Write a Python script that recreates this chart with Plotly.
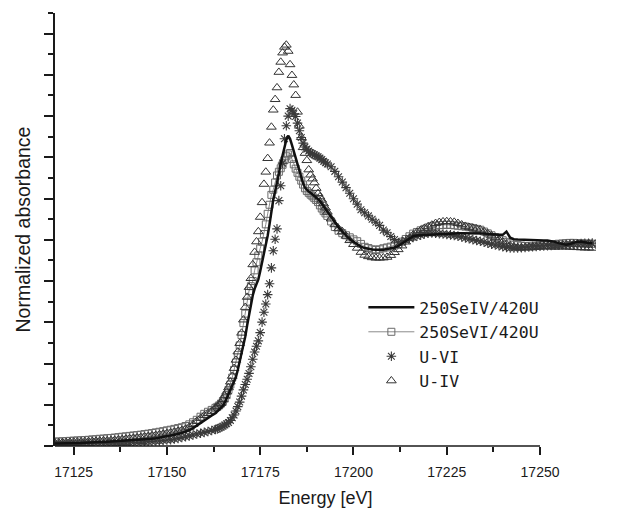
import plotly.graph_objects as go

# Shared energy grid (eV): pre-edge 1 eV, edge region 0.5 eV, post-edge 1 eV
energy = [
    17120, 17121, 17122, 17123, 17124, 17125, 17126, 17127, 17128, 17129,
    17130, 17131, 17132, 17133, 17134, 17135, 17136, 17137, 17138, 17139,
    17140, 17141, 17142, 17143, 17144, 17145, 17146, 17147, 17148, 17149,
    17150, 17151, 17152, 17153, 17154, 17155, 17156, 17157, 17158, 17159,
    17160, 17161, 17162, 17163,
    17163.5, 17164, 17164.5, 17165, 17165.5, 17166, 17166.5, 17167, 17167.5, 17168,
    17168.5, 17169, 17169.5, 17170, 17170.5, 17171, 17171.5, 17172, 17172.5, 17173,
    17173.5, 17174, 17174.5, 17175, 17175.5, 17176, 17176.5, 17177, 17177.5, 17178,
    17178.5, 17179, 17179.5, 17180, 17180.5, 17181, 17181.5, 17182, 17182.5, 17183,
    17183.5, 17184, 17184.5, 17185, 17185.5, 17186, 17186.5, 17187, 17187.5, 17188,
    17188.5, 17189, 17189.5, 17190, 17190.5, 17191, 17191.5, 17192, 17192.5, 17193,
    17194, 17195, 17196, 17197, 17198, 17199, 17200, 17201, 17202, 17203,
    17204, 17205, 17206, 17207, 17208, 17209, 17210, 17211, 17212, 17213,
    17214, 17215, 17216, 17217, 17218, 17219, 17220, 17221, 17222, 17223,
    17224, 17225, 17226, 17227, 17228, 17229, 17230, 17231, 17232, 17233,
    17234, 17235, 17236, 17237, 17238, 17239, 17240, 17241, 17242, 17243,
    17244, 17245, 17246, 17247, 17248, 17249, 17250, 17251, 17252, 17253,
    17254, 17255, 17256, 17257, 17258, 17259, 17260, 17261, 17262, 17263,
    17264,
]

# 250SeIV/420U (solid line)
se_iv = [
    0.012, 0.012, 0.013, 0.013, 0.014, 0.014, 0.015, 0.015, 0.016, 0.016,
    0.017, 0.018, 0.019, 0.020, 0.021, 0.021, 0.022, 0.023, 0.024, 0.025,
    0.026, 0.027, 0.028, 0.030, 0.031, 0.033, 0.035, 0.037, 0.040, 0.043,
    0.046, 0.050, 0.054, 0.058, 0.063, 0.069, 0.077, 0.087, 0.100, 0.113,
    0.125, 0.137, 0.148, 0.159,
    0.168, 0.176, 0.185, 0.195, 0.210, 0.230, 0.250, 0.268, 0.290, 0.313,
    0.336, 0.370, 0.410, 0.447, 0.490, 0.531, 0.585, 0.640, 0.690, 0.730,
    0.762, 0.785, 0.808, 0.848, 0.887, 0.927, 0.967, 1.020, 1.075, 1.140,
    1.195, 1.235, 1.275, 1.320, 1.372, 1.410, 1.450, 1.485, 1.505, 1.490,
    1.460, 1.428, 1.395, 1.370, 1.335, 1.302, 1.274, 1.253, 1.242, 1.234,
    1.228, 1.220, 1.213, 1.207, 1.200, 1.189, 1.176, 1.163, 1.150, 1.136,
    1.111, 1.085, 1.060, 1.040, 1.020, 1.003, 0.990, 0.978, 0.967, 0.960,
    0.956, 0.953, 0.952, 0.951, 0.952, 0.955, 0.958, 0.963, 0.970, 0.982,
    0.996, 1.009, 1.018, 1.021, 1.022, 1.023, 1.024, 1.025, 1.027, 1.029,
    1.031, 1.032, 1.032, 1.032, 1.032, 1.032, 1.032, 1.032, 1.032, 1.032,
    1.031, 1.030, 1.028, 1.026, 1.025, 1.024, 1.024, 1.040, 1.010, 1.003,
    1.001, 1.000, 0.999, 0.999, 0.998, 0.998, 0.997, 0.997, 0.997, 0.995,
    0.990, 0.984, 0.979, 0.976, 0.980, 0.986, 0.991, 0.992, 0.988, 0.985,
    0.984,
]

# 250SeVI/420U (open squares)
se_vi = [
    0.021, 0.022, 0.023, 0.024, 0.025, 0.026, 0.027, 0.028, 0.029, 0.030,
    0.032, 0.033, 0.035, 0.036, 0.038, 0.039, 0.041, 0.043, 0.045, 0.047,
    0.049, 0.051, 0.053, 0.055, 0.058, 0.060, 0.063, 0.066, 0.069, 0.072,
    0.076, 0.079, 0.083, 0.087, 0.091, 0.097, 0.105, 0.115, 0.127, 0.142,
    0.156, 0.166, 0.175, 0.185,
    0.190, 0.197, 0.206, 0.217, 0.230, 0.247, 0.272, 0.298, 0.332, 0.369,
    0.405, 0.442, 0.488, 0.538, 0.596, 0.642, 0.700, 0.752, 0.775, 0.800,
    0.852, 0.891, 0.924, 0.958, 0.991, 1.028, 1.075, 1.126, 1.170, 1.218,
    1.243, 1.278, 1.312, 1.330, 1.347, 1.364, 1.386, 1.405, 1.414, 1.421,
    1.392, 1.366, 1.345, 1.325, 1.306, 1.287, 1.268, 1.250, 1.237, 1.228,
    1.219, 1.211, 1.202, 1.193, 1.183, 1.167, 1.152, 1.139, 1.128, 1.116,
    1.089, 1.062, 1.044, 1.032, 1.022, 1.012, 1.002, 0.993, 0.980, 0.966,
    0.960, 0.954, 0.951, 0.954, 0.959, 0.963, 0.967, 0.972, 0.978, 0.991,
    1.004, 1.017, 1.030, 1.038, 1.046, 1.053, 1.060, 1.066, 1.069, 1.071,
    1.072, 1.073, 1.072, 1.070, 1.068, 1.066, 1.064, 1.061, 1.057, 1.053,
    1.049, 1.040, 1.031, 1.022, 1.013, 1.005, 0.998, 0.990, 0.983, 0.976,
    0.974, 0.972, 0.970, 0.968, 0.968, 0.970, 0.972, 0.974, 0.976, 0.978,
    0.979, 0.981, 0.982, 0.984, 0.985, 0.985, 0.984, 0.983, 0.982, 0.981,
    0.981,
]

# U-VI reference (asterisks)
u_vi = [
    0.008, 0.008, 0.009, 0.009, 0.009, 0.010, 0.010, 0.010, 0.011, 0.011,
    0.011, 0.012, 0.012, 0.012, 0.013, 0.013, 0.013, 0.014, 0.015, 0.015,
    0.016, 0.017, 0.018, 0.019, 0.020, 0.021, 0.022, 0.024, 0.025, 0.027,
    0.029, 0.031, 0.034, 0.037, 0.041, 0.045, 0.049, 0.053, 0.058, 0.062,
    0.066, 0.070, 0.075, 0.080,
    0.083, 0.087, 0.091, 0.096, 0.102, 0.108, 0.114, 0.124, 0.137, 0.150,
    0.170, 0.191, 0.213, 0.242, 0.272, 0.298, 0.324, 0.352, 0.384, 0.421,
    0.456, 0.484, 0.510, 0.550, 0.601, 0.649, 0.689, 0.734, 0.787, 0.864,
    0.947, 1.003, 1.053, 1.190, 1.262, 1.372, 1.490, 1.553, 1.600, 1.636,
    1.628, 1.611, 1.598, 1.566, 1.529, 1.496, 1.469, 1.450, 1.440, 1.431,
    1.422, 1.417, 1.412, 1.407, 1.403, 1.396, 1.389, 1.381, 1.374, 1.368,
    1.354, 1.332, 1.306, 1.280, 1.253, 1.226, 1.199, 1.173, 1.146, 1.131,
    1.116, 1.100, 1.085, 1.070, 1.047, 1.034, 1.016, 1.001, 0.986, 0.990,
    0.998, 1.006, 1.012, 1.017, 1.022, 1.028, 1.032, 1.033, 1.032, 1.030,
    1.028, 1.026, 1.024, 1.021, 1.018, 1.014, 1.009, 1.005, 1.001, 0.997,
    0.993, 0.989, 0.984, 0.979, 0.975, 0.971, 0.967, 0.963, 0.960, 0.960,
    0.961, 0.962, 0.963, 0.965, 0.967, 0.968, 0.969, 0.970, 0.972, 0.973,
    0.974, 0.975, 0.977, 0.978, 0.979, 0.980, 0.981, 0.982, 0.983, 0.983,
    0.984,
]

# U-IV reference (open triangles)
u_iv = [
    0.015, 0.016, 0.017, 0.018, 0.019, 0.020, 0.020, 0.021, 0.022, 0.022,
    0.023, 0.024, 0.025, 0.026, 0.026, 0.027, 0.028, 0.030, 0.032, 0.034,
    0.036, 0.038, 0.040, 0.042, 0.045, 0.047, 0.050, 0.052, 0.055, 0.058,
    0.061, 0.064, 0.068, 0.072, 0.076, 0.082, 0.092, 0.105, 0.120, 0.135,
    0.148, 0.158, 0.169, 0.185,
    0.193, 0.200, 0.207, 0.226, 0.244, 0.262, 0.283, 0.311, 0.339, 0.377,
    0.417, 0.457, 0.498, 0.548, 0.612, 0.673, 0.722, 0.770, 0.813, 0.880,
    0.940, 0.991, 1.040, 1.110, 1.181, 1.270, 1.329, 1.395, 1.470, 1.547,
    1.630, 1.681, 1.738, 1.813, 1.862, 1.907, 1.935, 1.945, 1.915, 1.850,
    1.798, 1.752, 1.701, 1.620, 1.552, 1.497, 1.448, 1.420, 1.385, 1.340,
    1.315, 1.296, 1.277, 1.250, 1.225, 1.209, 1.193, 1.175, 1.155, 1.135,
    1.102, 1.074, 1.054, 1.040, 1.018, 0.997, 0.978, 0.960, 0.940, 0.926,
    0.919, 0.914, 0.912, 0.912, 0.913, 0.916, 0.925, 0.939, 0.953, 0.971,
    0.990, 1.008, 1.024, 1.036, 1.046, 1.056, 1.064, 1.072, 1.080, 1.085,
    1.088, 1.089, 1.088, 1.086, 1.080, 1.073, 1.066, 1.061, 1.057, 1.053,
    1.049, 1.040, 1.030, 1.020, 1.011, 1.000, 0.990, 0.980, 0.972, 0.967,
    0.963, 0.961, 0.962, 0.963, 0.964, 0.965, 0.966, 0.967, 0.966, 0.966,
    0.965, 0.966, 0.966, 0.966, 0.965, 0.964, 0.963, 0.962, 0.961, 0.961,
    0.960,
]

x_ticks = [17125, 17150, 17175, 17200, 17225, 17250]
x_minor = [17137.5, 17162.5, 17187.5, 17212.5, 17237.5]
y_major = [0.0, 0.2, 0.4, 0.6, 0.8, 1.0, 1.2, 1.4, 1.6, 1.8, 2.0]
y_minor = [0.1, 0.3, 0.5, 0.7, 0.9, 1.1, 1.3, 1.5, 1.7, 1.9, 2.1]

label_font = "Liberation Sans, Arial, sans-serif"
ink = "#1a1a1a"

fig = go.Figure()

fig.add_trace(go.Scatter(
    x=energy, y=se_vi, mode="lines+markers", name="250SeVI/420U",
    line=dict(color="#8c8c8c", width=1),
    marker=dict(symbol="square-open", size=7, color="#6a6a6a",
                line=dict(width=1, color="#6a6a6a")),
    legendrank=2,
))
fig.add_trace(go.Scatter(
    x=energy, y=u_iv, mode="markers", name="U-IV",
    marker=dict(symbol="triangle-up-open", size=8.5, color="#333333",
                line=dict(width=1, color="#333333")),
    legendrank=4,
))
fig.add_trace(go.Scatter(
    x=energy, y=u_vi, mode="markers", name="U-VI",
    marker=dict(symbol="asterisk-open", size=8, color="#3a3a3a",
                line=dict(width=1.1, color="#3a3a3a")),
    legendrank=3,
))
fig.add_trace(go.Scatter(
    x=energy, y=se_iv, mode="lines", name="250SeIV/420U",
    line=dict(color="#111111", width=2.5),
    legendrank=1,
))

fig.update_layout(
    width=620, height=511,
    margin=dict(l=55, r=24, t=13, b=65, autoexpand=False),
    paper_bgcolor="white", plot_bgcolor="white",
    showlegend=True,
    legend=dict(
        x=0.57, y=0.36, xanchor="left", yanchor="top",
        bgcolor="rgba(0,0,0,0)",
        font=dict(family="DejaVu Sans Mono, monospace", size=16.5, color=ink),
        itemwidth=46,
        tracegroupgap=0,
    ),
    xaxis=dict(
        range=[17120, 17265], automargin=False,
        showline=False, showgrid=False, zeroline=False,
        tickmode="array", tickvals=x_ticks, tickformat="d",
        ticks="outside", ticklen=8, tickwidth=1.5, tickcolor=ink,
        ticklabelstandoff=5,
        minor=dict(tickmode="array", tickvals=x_minor, ticks="outside",
                   ticklen=5, tickwidth=1.5, tickcolor=ink),
        tickfont=dict(family=label_font, size=14, color=ink),
        title=dict(text="Energy [eV]", standoff=12,
                   font=dict(family=label_font, size=18, color=ink)),
    ),
    yaxis=dict(
        range=[0, 2.1], automargin=False,
        showline=True, linewidth=1.5, linecolor=ink,
        showgrid=False, zeroline=False,
        tickmode="array", tickvals=y_major, showticklabels=False,
        ticks="outside", ticklen=9, tickwidth=1.5, tickcolor=ink,
        minor=dict(tickmode="array", tickvals=y_minor, ticks="outside",
                   ticklen=5, tickwidth=1.5, tickcolor=ink),
        title=dict(text="Normalized absorbance", standoff=8,
                   font=dict(family=label_font, size=19.5, color=ink)),
    ),
    shapes=[dict(type="line", xref="x", yref="paper",
                 x0=17120, x1=17250, y0=0, y1=0,
                 line=dict(color=ink, width=1.5))],
)

fig.write_html("out.html")
